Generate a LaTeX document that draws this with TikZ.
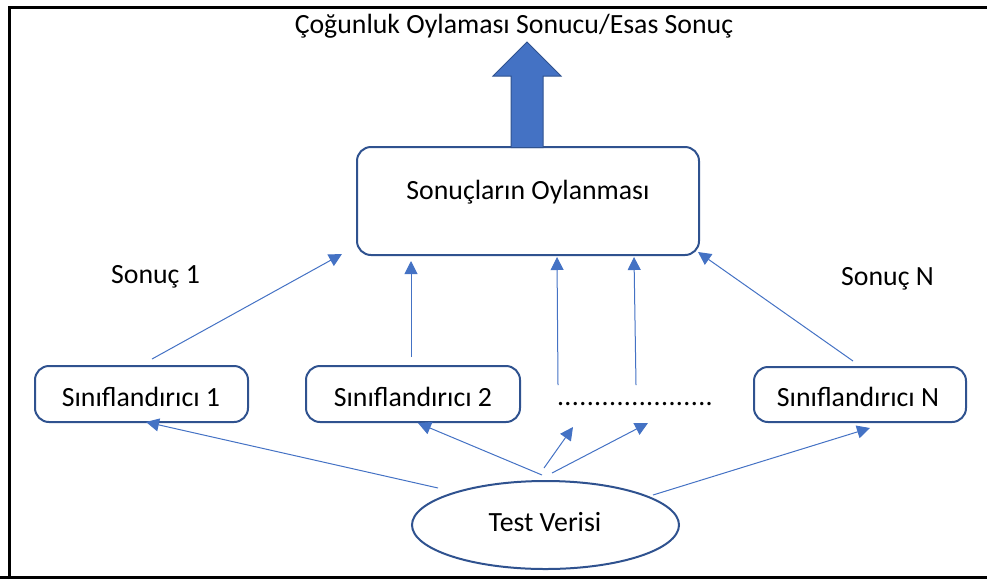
\documentclass[tikz,border=0pt]{standalone}
\usepackage{fontspec}
\setmainfont{Carlito}
\usetikzlibrary{arrows.meta,shapes.geometric}
\definecolor{boxblue}{HTML}{2F528F}
\definecolor{lineblue}{HTML}{4472C4}
\tikzset{
  every node/.style={font=\fontsize{27.8}{32}\selectfont, text=black},
  rbox/.style={draw=boxblue, line width=2pt, rounded corners=14pt, inner sep=0pt},
  conn/.style={draw=lineblue, line width=1pt, -{Triangle[length=13pt,width=13pt]}},
  bigarrow/.style={fill=lineblue, draw=boxblue, line width=1pt},
  frame/.style={draw=black, line width=3pt}
}
\begin{document}
\begin{tikzpicture}[x=1pt,y=-1pt]
\useasboundingbox (0,0) rectangle (987,579);
% frame
\draw[frame] (9,579) -- (9,7) -- (990,7);
\draw[frame] (0,577.5) -- (990,577.5);

% title
\node (title) at (514,26) {Çoğunluk Oylaması Sonucu/Esas Sonuç};

% voting box
\node[rbox, minimum width=342pt, minimum height=108pt] (vote) at (528,201) {};
\node (votetxt) at (528,192) {Sonuçların Oylanması};

% big arrow
\draw[bigarrow] (511,147.5) -- (511,76) -- (493,76) -- (527,42) -- (561,76) -- (543,76) -- (543,147.5) -- cycle;

% classifiers
\node[rbox, minimum width=213pt, minimum height=56pt] (c1) at (141.5,394) {};
\node (c1t) at (141,397) {Sınıflandırıcı 1};
\node[rbox, minimum width=214pt, minimum height=56pt] (c2) at (413,394) {};
\node (c2t) at (413,397) {Sınıflandırıcı 2};
\node[rbox, minimum width=212pt, minimum height=55pt] (cn) at (860,394.5) {};
\node (cnt) at (858,397) {Sınıflandırıcı N};
\node[inner sep=0pt] (dots) at (635,404) {\hbox to 156pt{.\hfill.\hfill.\hfill.\hfill.\hfill.\hfill.\hfill.\hfill.\hfill.\hfill.\hfill.\hfill.\hfill.\hfill.\hfill.\hfill.\hfill.\hfill.\hfill.\hfill.}};

% labels
\node (s1) at (155.5,277) {Sonuç 1};
\node (sn) at (887.5,279) {Sonuç N};

% test data
\node[draw=boxblue, line width=2pt, ellipse, minimum width=267pt, minimum height=88pt, inner sep=0pt] (test) at (545.5,525) {};
\node (testt) at (545,522) {Test Verisi};

% connector end points
\coordinate (a1s) at (152,359);
\coordinate (a1e) at (342,254);
\coordinate (a2s) at (411,357);
\coordinate (a2e) at (411,261);
\coordinate (a3s) at (558,385);
\coordinate (a3e) at (557,257);
\coordinate (a4s) at (636,385);
\coordinate (a4e) at (634,257);
\coordinate (a5s) at (853,361);
\coordinate (a5e) at (698,252);

\coordinate (b1s) at (438,488);
\coordinate (b1e) at (146,422);
\coordinate (b2s) at (542,475);
\coordinate (b2e) at (418,423);
\coordinate (b3s) at (544,468);
\coordinate (b3e) at (573,427);
\coordinate (b4s) at (552,473);
\coordinate (b4e) at (648,423);
\coordinate (b5s) at (653,495);
\coordinate (b5e) at (870,428);

\foreach \i in {1,...,5} {
  \draw[conn] (a\i s) -- (a\i e);
  \draw[conn] (b\i s) -- (b\i e);
}
\end{tikzpicture}
\end{document}
